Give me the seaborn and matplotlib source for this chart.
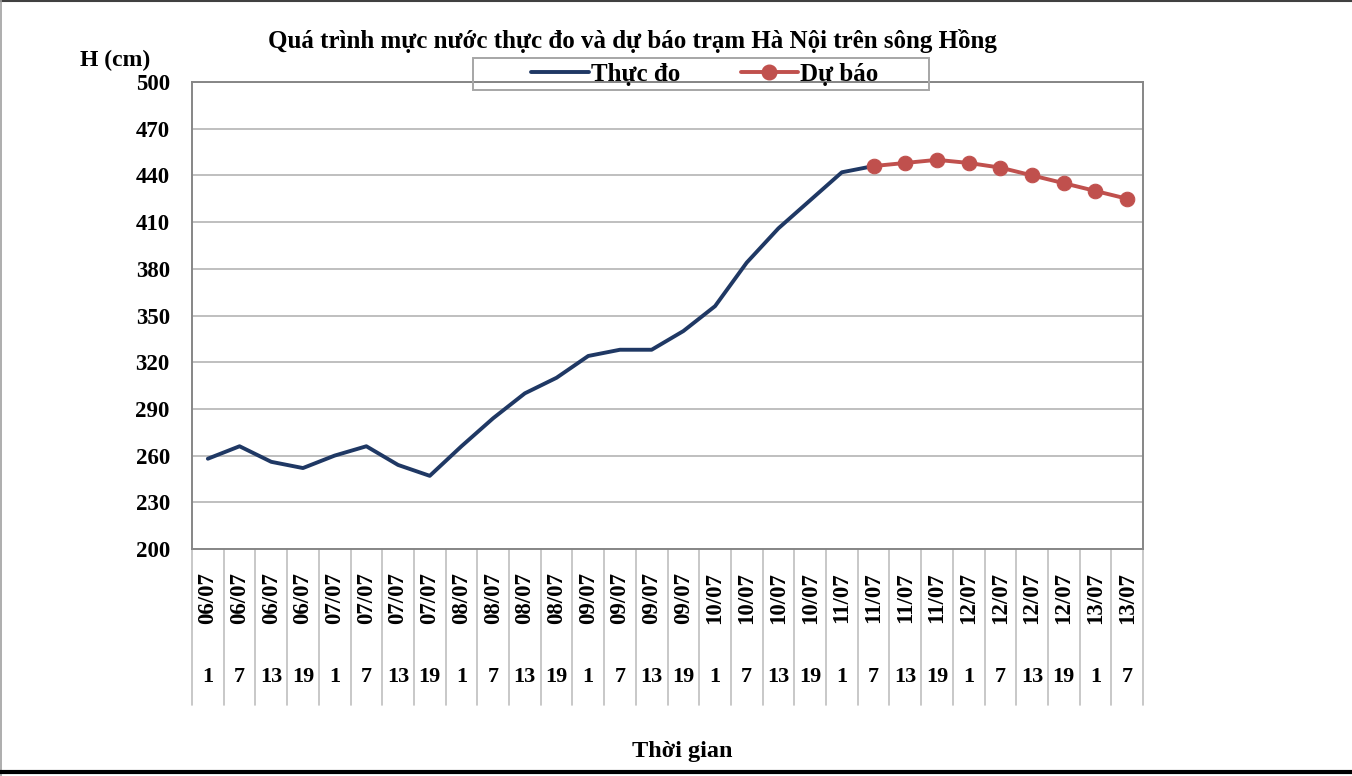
import matplotlib
matplotlib.use("Agg")
import matplotlib.pyplot as plt
import seaborn as sns
import pandas as pd
from matplotlib.lines import Line2D
from matplotlib.patches import Rectangle

dates = ["06/07"] * 4 + ["07/07"] * 4 + ["08/07"] * 4 + ["09/07"] * 4 + \
        ["10/07"] * 4 + ["11/07"] * 4 + ["12/07"] * 4 + ["13/07"] * 2
hours = ["1", "7", "13", "19"] * 7 + ["1", "7"]

observed = [258, 266, 256, 252, 260, 266, 254, 247, 266, 284, 300, 310,
            324, 328, 328, 340, 356, 384, 406, 424, 442, 446]
forecast = [446, 448, 450, 448, 445, 440, 435, 430, 425]
forecast_start = 21

title = "Quá trình mực nước thực đo và dự báo trạm Hà Nội trên sông Hồng"
ylabel = "H (cm)"
xlabel = "Thời gian"
yticks = [200, 230, 260, 290, 320, 350, 380, 410, 440, 470, 500]

sns.set_theme(style="white")
plt.rcParams['font.family'] = ['Liberation Serif', 'DejaVu Serif']
plt.rcParams['font.weight'] = 'bold'
plt.rcParams['text.color'] = 'black'
plt.rcParams['ytick.labelcolor'] = 'black'

obs_df = pd.DataFrame({"idx": range(len(observed)), "H": observed})
fc_df = pd.DataFrame({"idx": range(forecast_start, forecast_start + len(forecast)), "H": forecast})

W, H = 1352, 776
fig = plt.figure(figsize=(W / 100, H / 100), dpi=100)
ax = fig.add_axes([192 / W, 1 - 549 / H, (1143 - 192) / W, (549 - 82) / H])

navy = "#1F3864"
red = "#C0504D"
grid_c = "#BFBFBF"
spine_c = "#868686"

sns.lineplot(data=obs_df, x="idx", y="H", ax=ax, color=navy, linewidth=2.8)
sns.lineplot(data=fc_df, x="idx", y="H", ax=ax, color=red, linewidth=2.8,
             marker="o", markersize=10.5, markeredgecolor=red)

n = len(dates)
ax.set_xlim(-0.5, n - 0.5)
ax.set_ylim(200, 500)
ax.set_yticks(yticks)
ax.set_yticklabels([str(v) for v in yticks], fontsize=16.5, fontweight='bold', color='black')
ax.set_xticks([])
ax.set_xlabel("")
ax.set_ylabel("")
ax.tick_params(axis='y', length=0, pad=16)
ax.yaxis.grid(True, color=grid_c, linewidth=1.4)
ax.set_axisbelow(True)
for s in ax.spines.values():
    s.set_color(spine_c)
    s.set_linewidth(1.4)
    s.set_visible(True)

# category table under the axis
trans = ax.get_xaxis_transform()
for i in range(n + 1):
    ax.plot([i - 0.5, i - 0.5], [0, -0.334], transform=trans, color=grid_c,
            linewidth=1.2, clip_on=False)
for i, (d, h) in enumerate(zip(dates, hours)):
    ax.text(i, -0.105, d, transform=trans, rotation=90, ha='center', va='center',
            fontsize=16.5, fontweight='bold', color='black')
    ax.text(i, -0.274, h, transform=trans, ha='center', va='center',
            fontsize=16, fontweight='bold', color='black')

fig.text(632 / W, 1 - 41 / H, title, ha='center', va='center', fontsize=18, fontweight='bold', color='black')
fig.text(115 / W, 1 - 60 / H, ylabel, ha='center', va='center', fontsize=17, fontweight='bold', color='black')
fig.text(682 / W, 1 - 751 / H, xlabel, ha='center', va='center', fontsize=17.5, fontweight='bold', color='black')

# legend (frame drawn separately to match the wide, flat, transparent box)
fig.add_artist(Rectangle((473 / W, 1 - 90 / H), (929 - 473) / W, 32 / H,
                         transform=fig.transFigure, facecolor='none',
                         edgecolor="#A6A6A6", linewidth=1.4, zorder=5))
handles = [Line2D([], [], color=navy, linewidth=2.8),
           Line2D([], [], color=red, linewidth=2.8, marker="o", markersize=10.5)]
leg = fig.legend(handles, ["Thực đo", "Dự báo"], loc='center',
                 bbox_to_anchor=(705 / W, 1 - 74 / H), ncol=2, frameon=False,
                 prop={'size': 18, 'weight': 'bold'},
                 handlelength=2.3, handletextpad=0.1, columnspacing=2.4,
                 borderpad=0.1, borderaxespad=0, labelcolor='black')
leg.set_zorder(6)

# figure border
fig.add_artist(Line2D([0, 1], [1 - 1 / H, 1 - 1 / H], transform=fig.transFigure, color="#404040", linewidth=1.5))
fig.add_artist(Line2D([0.5 / W, 0.5 / W], [0, 1], transform=fig.transFigure, color="#A0A0A0", linewidth=1.2))
fig.add_artist(Line2D([0, 1], [1 - 772 / H, 1 - 772 / H], transform=fig.transFigure, color="black", linewidth=3))

fig.savefig("out.png", dpi=100)
